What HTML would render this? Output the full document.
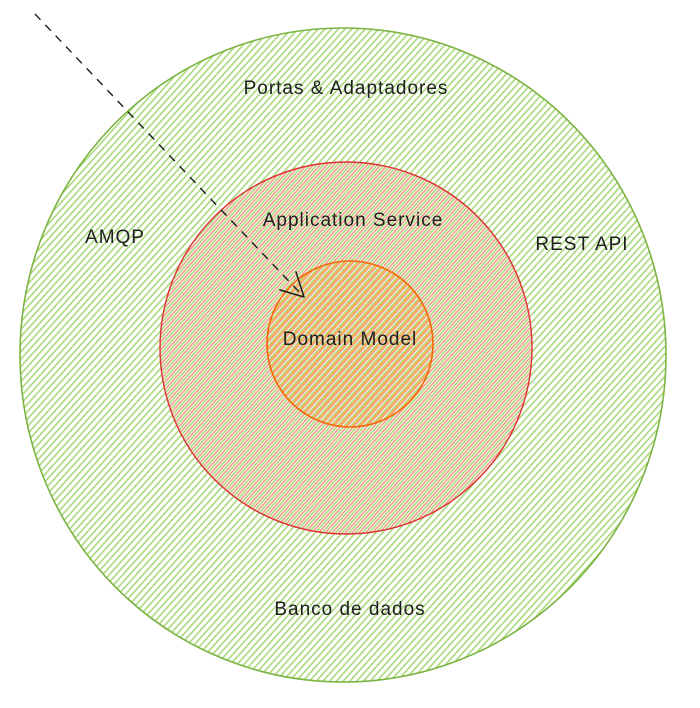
<!DOCTYPE html>
<html><head><meta charset="utf-8"><style>html,body{margin:0;padding:0;background:#fff}svg{display:block}</style></head>
<body>
<svg width="700" height="708" viewBox="0 0 700 708" xmlns="http://www.w3.org/2000/svg">
<defs>
<pattern id="pg" width="5" height="5" patternUnits="userSpaceOnUse" patternTransform="rotate(-48)">
<rect width="5" height="1.6" fill="#a9d97a"/></pattern>
<pattern id="pr" width="5" height="5" patternUnits="userSpaceOnUse" patternTransform="rotate(-48) translate(0,2.5)">
<rect width="5" height="1.6" fill="#f59a8e"/></pattern>
<pattern id="po" width="5" height="5" patternUnits="userSpaceOnUse" patternTransform="rotate(-48) translate(0,1.2)">
<rect width="5" height="1.8" fill="#f9b45c"/></pattern>
</defs>
<ellipse cx="343" cy="355" rx="323" ry="327" fill="url(#pg)" stroke="#7cb342" stroke-width="1.6"/>
<circle cx="346" cy="348" r="186" fill="url(#pr)" stroke="#e03131" stroke-width="1.4"/>
<circle cx="350" cy="344" r="83" fill="url(#po)" stroke="#f76707" stroke-width="1.6"/>
<line x1="35" y1="14" x2="302" y2="295" stroke="#1e1e1e" stroke-width="1.4" stroke-dasharray="8 7"/>
<path d="M280 290 L304 297 M304 297 L296 272" fill="none" stroke="#1e1e1e" stroke-width="1.5" stroke-linecap="round"/>
<g font-family="Liberation Sans, sans-serif" font-size="19" fill="#1e1e1e" text-anchor="middle" letter-spacing="1">
<text x="346" y="94">Portas &amp; Adaptadores</text>
<text x="353" y="226">Application Service</text>
<text x="115" y="243">AMQP</text>
<text x="582" y="250">REST API</text>
<text x="350" y="345">Domain Model</text>
<text x="350" y="615">Banco de dados</text>
</g>
</svg>
</body></html>
